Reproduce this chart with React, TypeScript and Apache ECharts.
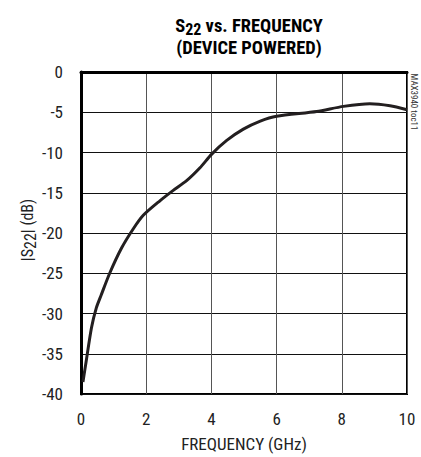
import React, { useEffect, useRef } from "react";
import * as echarts from "echarts";

const freqGHz = [0.06, 0.16, 0.32, 0.47, 0.62, 0.88, 1.24, 1.6, 1.91, 2.42, 2.83, 3.24, 3.65, 4.01, 4.47, 4.98, 5.5, 6.0, 7.23, 8.05, 8.86, 9.48, 10];
const s22dB = [-38.5, -35.9, -31.8, -29.3, -27.7, -25.0, -21.9, -19.5, -17.8, -16.0, -14.7, -13.5, -11.9, -10.2, -8.5, -7.1, -6.1, -5.5, -4.9, -4.27, -3.94, -4.19, -4.68];
const xTicks = [0, 2, 4, 6, 8, 10];
const yTicks = [0, -5, -10, -15, -20, -25, -30, -35, -40];

const FONT = "'Liberation Sans Narrow', 'Roboto Condensed', 'Liberation Sans', sans-serif";

export default function App() {
  const ref = useRef<HTMLDivElement>(null);
  useEffect(() => {
    if (!ref.current) return;
    const chart = echarts.init(ref.current, null, { renderer: "svg" });
    chart.setOption({
      animation: false,
      backgroundColor: "#fff",
      title: {
        text: "{b|S}{s|22}{b| vs. FREQUENCY}\n{b|(DEVICE POWERED)}",
        left: 244,
        top: 10,
        textAlign: "center",
        textStyle: {
          rich: {
            b: { fontFamily: FONT, fontWeight: "bold", fontSize: 18.5, color: "#000", lineHeight: 22 },
            s: { fontFamily: FONT, fontWeight: "bold", fontSize: 16, color: "#000", lineHeight: 22, verticalAlign: "bottom", padding: [6, 0, 0, 0] },
          },
        },
      },
      grid: { left: 81, right: 14, top: 72, bottom: 60, show: true, borderColor: "#000", borderWidth: 2, containLabel: false },
      xAxis: {
        type: "value",
        min: 0,
        max: 10,
        interval: 2,
        name: "FREQUENCY (GHz)",
        nameLocation: "middle",
        nameGap: 41,
        nameTextStyle: { fontFamily: FONT, fontSize: 17, color: "#222" },
        axisLine: { show: true, lineStyle: { color: "#000", width: 3 } },
        axisTick: { show: false },
        axisLabel: { fontFamily: FONT, fontSize: 17, color: "#222", margin: 16, formatter: (v: number) => (xTicks.includes(v) ? String(v) : "") },
        splitLine: { show: true, lineStyle: { color: "#555", width: 1 } },
      },
      yAxis: {
        type: "value",
        min: -40,
        max: 0,
        interval: 5,
        axisLine: { show: true, lineStyle: { color: "#000", width: 3 } },
        axisTick: { show: false },
        axisLabel: { fontFamily: FONT, fontSize: 17, color: "#222", margin: 18, formatter: (v: number) => (yTicks.includes(v) ? String(v) : "") },
        splitLine: { show: true, lineStyle: { color: "#111", width: 1 } },
      },
      graphic: [
        {
          type: "text",
          x: 27,
          y: 230,
          rotation: Math.PI / 2,
          style: {
            text: "|S{s|22}| (dB)",
            fontFamily: FONT,
            fontSize: 16,
            fill: "#222",
            align: "center",
            verticalAlign: "middle",
            rich: { s: { fontFamily: FONT, fontSize: 16, fill: "#222", padding: [6, 0, 0, 0] } },
          },
        },
        {
          type: "text",
          x: 414,
          y: 102,
          rotation: -Math.PI / 2,
          style: {
            text: "MAX3940 toc11",
            fontFamily: FONT,
            fontSize: 9,
            fill: "#333",
            align: "center",
            verticalAlign: "middle",
          },
        },
      ],
      series: [
        {
          type: "line",
          data: freqGHz.map((f, i) => [f, s22dB[i]]),
          smooth: 0.25,
          showSymbol: false,
          lineStyle: { color: "#231f20", width: 3 },
          z: 5,
        },
      ],
    });
    return () => chart.dispose();
  }, []);
  return <div ref={ref} style={{ width: 421, height: 457, position: "absolute", left: 0, top: 0 }} />;
}
